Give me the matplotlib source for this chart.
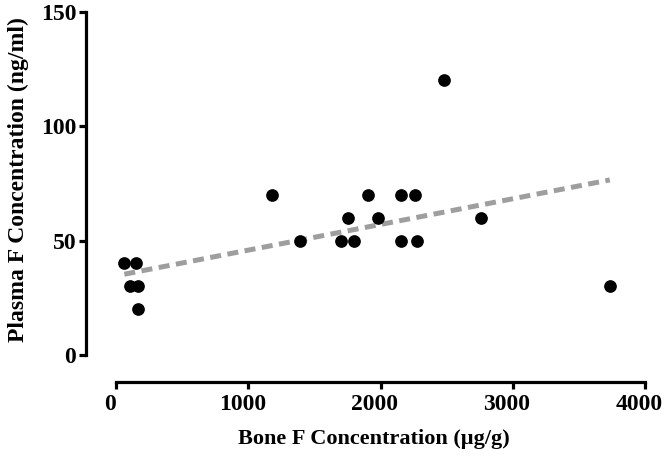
import matplotlib
matplotlib.use('Agg')
import matplotlib.pyplot as plt
from matplotlib.transforms import ScaledTranslation

# values
bone_f = [63, 151, 106, 166, 164, 1181, 1391, 1703, 1797, 1756,
          1902, 1980, 2152, 2156, 2262, 2273, 2479, 2757, 3734]
plasma_f = [40, 40, 30, 30, 20, 70, 50, 50, 50, 60,
            70, 60, 50, 70, 70, 50, 120, 60, 30]
fit_x = [63, 3734]        # regression line, ends
fit_y = [35.3, 76.5]
x_ticks = [0, 1000, 2000, 3000, 4000]
y_ticks = [0, 50, 100, 150]

plt.rcParams['font.family'] = ['Liberation Serif', 'DejaVu Serif']
plt.rcParams['font.weight'] = 'bold'

W, H = 666, 468
fig = plt.figure(figsize=(W / 100, H / 100), dpi=100)
ax = fig.add_axes([116 / W, 1 - 355 / H, (645 - 116) / W, (355 - 11.7) / H])

ax.plot(fit_x, fit_y, color='#9e9e9e', lw=3.6, ls=(0, (2.2, 1.3)), zorder=2)
ax.scatter(bone_f, plasma_f, s=66, c='black', zorder=3, clip_on=False)

ax.set_xlim(0, 4000)
ax.set_ylim(0, 150)
ax.set_xticks(x_ticks)
ax.set_yticks(y_ticks)

for side in ['top', 'right']:
    ax.spines[side].set_visible(False)
ax.spines['left'].set_position(('outward', 21.6))
ax.spines['bottom'].set_position(('outward', 19.4))
for side in ['left', 'bottom']:
    ax.spines[side].set_linewidth(2.3)
ax.spines['left'].set_bounds(0, 150)
ax.spines['bottom'].set_bounds(0, 4000)
ax.tick_params(width=2.3, length=5, labelsize=17, direction='out')
ax.tick_params(axis='x', pad=4)
ax.tick_params(axis='y', pad=2)

# x tick labels sit a little left of their ticks in the reference
shift = ScaledTranslation(-6 / 100, 0, fig.dpi_scale_trans)
for lab in ax.get_xticklabels():
    lab.set_transform(lab.get_transform() + shift)
for lab in ax.get_xticklabels() + ax.get_yticklabels():
    lab.set_fontweight('bold')

ax.set_xlabel('Bone F Concentration (µg/g)', fontsize=16, fontweight='bold')
ax.set_ylabel('Plasma F Concentration (ng/ml)', fontsize=17, fontweight='bold')
ax.xaxis.set_label_coords(0.488, -0.215)
ax.yaxis.set_label_coords(-0.165, 0.51)

fig.savefig('out.png', dpi=100)
